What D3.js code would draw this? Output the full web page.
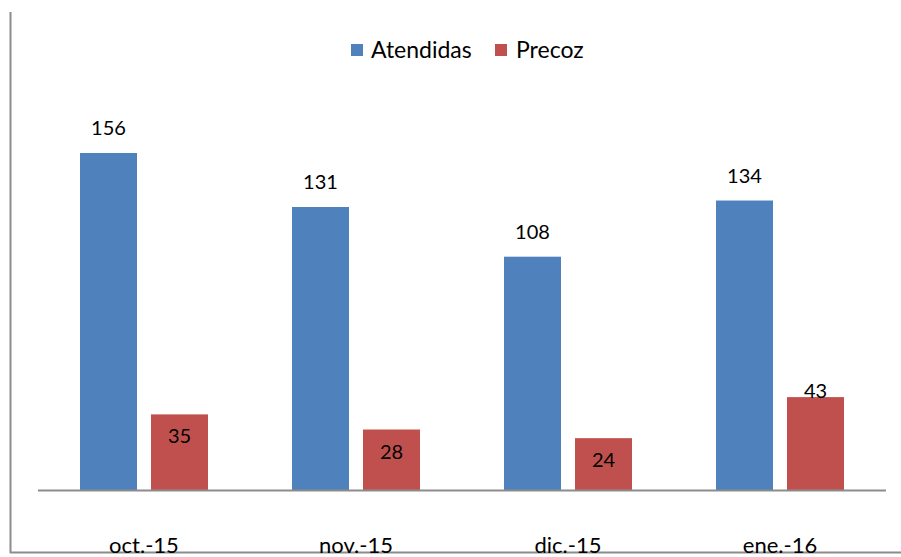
<!DOCTYPE html>
<html>
<head>
<meta charset="utf-8">
<script src="https://cdn.jsdelivr.net/npm/d3@7"></script>
<style>
  html, body { margin: 0; padding: 0; background: #fff; }
  svg { display: block; font-family: Lato, "Open Sans", sans-serif; }
</style>
</head>
<body>
<div id="chart"></div>
<script>
// chart data
var months = ["oct.-15", "nov.-15", "dic.-15", "ene.-16"];
var seriesNames = ["Atendidas", "Precoz"];
var atendidas = [156, 131, 108, 134];
var precoz = [35, 28, 24, 43];

var colors = { Atendidas: "#4F81BD", Precoz: "#C0504D" };

var width = 901,
  height = 557;

var svg = d3
  .select("#chart")
  .append("svg")
  .attr("width", width)
  .attr("height", height);

// outer frame (only left and bottom edges are visible)
svg.append("line")
  .attr("x1", 10.5).attr("x2", 10.5)
  .attr("y1", 12).attr("y2", 553)
  .attr("stroke", "#8c8c8c").attr("stroke-width", 2);
svg.append("line")
  .attr("x1", 10).attr("x2", width)
  .attr("y1", 552.5).attr("y2", 552.5)
  .attr("stroke", "#8c8c8c").attr("stroke-width", 2);

var data = months.map(function (m, i) {
  return { month: m, Atendidas: atendidas[i], Precoz: precoz[i] };
});

var x0 = d3.scaleBand()
  .domain(months)
  .range([38, 886])
  .paddingInner(0)
  .paddingOuter(0);

// bars 57px wide, 14px gap, group offset 42px inside a 212px band
var x1 = d3.scaleBand()
  .domain(seriesNames)
  .range([42, 170])
  .paddingInner(14 / 71);

var y = d3.scaleLinear()
  .domain([0, 156])
  .range([490, 153]);

var groups = svg.selectAll("g.group")
  .data(data)
  .enter()
  .append("g")
  .attr("class", "group")
  .attr("transform", function (d) {
    return "translate(" + x0(d.month) + ",0)";
  });

groups.selectAll("rect")
  .data(function (d) {
    return seriesNames.map(function (s) {
      return { key: s, value: d[s] };
    });
  })
  .enter()
  .append("rect")
  .attr("x", function (d) { return x1(d.key); })
  .attr("width", x1.bandwidth())
  .attr("y", function (d) { return y(d.value); })
  .attr("height", function (d) { return y(0) - y(d.value); })
  .attr("fill", function (d) { return colors[d.key]; });

// value labels
groups.selectAll("text.val")
  .data(function (d, gi) {
    return seriesNames.map(function (s) {
      return { key: s, value: d[s], gi: gi };
    });
  })
  .enter()
  .append("text")
  .attr("class", "val")
  .attr("x", function (d) { return x1(d.key) + x1.bandwidth() / 2; })
  .attr("y", function (d) {
    if (d.key == "Atendidas") return y(d.value) - 25;
    if (d.gi == 3) return y(d.value) - 6;
    return y(d.value) + 22;
  })
  .attr("dy", "0.35em")
  .attr("text-anchor", "middle")
  .attr("font-size", 20)
  .attr("fill", "#000")
  .text(function (d) { return d.value; });

// category axis
svg.append("line")
  .attr("x1", 38).attr("x2", 886)
  .attr("y1", 490.5).attr("y2", 490.5)
  .attr("stroke", "#8c8c8c").attr("stroke-width", 2);

svg.selectAll("text.cat")
  .data(months)
  .enter()
  .append("text")
  .attr("class", "cat")
  .attr("x", function (d) { return x0(d) + x0.bandwidth() / 2; })
  .attr("y", 553)
  .attr("text-anchor", "middle")
  .attr("font-size", 22)
  .attr("fill", "#000")
  .text(function (d) { return d; });

// legend
var legendItems = [
  { name: "Atendidas", sx: 351, tx: 371 },
  { name: "Precoz", sx: 495, tx: 516 }
];
var legend = svg.append("g").attr("class", "legend");
legend.selectAll("rect")
  .data(legendItems)
  .enter()
  .append("rect")
  .attr("x", function (d) { return d.sx; })
  .attr("y", 44)
  .attr("width", 12)
  .attr("height", 12)
  .attr("fill", function (d) { return colors[d.name]; });
legend.selectAll("text")
  .data(legendItems)
  .enter()
  .append("text")
  .attr("x", function (d) { return d.tx; })
  .attr("y", 50)
  .attr("dy", "0.35em")
  .attr("font-size", 23)
  .attr("fill", "#000")
  .text(function (d) { return d.name; });
</script>
</body>
</html>
